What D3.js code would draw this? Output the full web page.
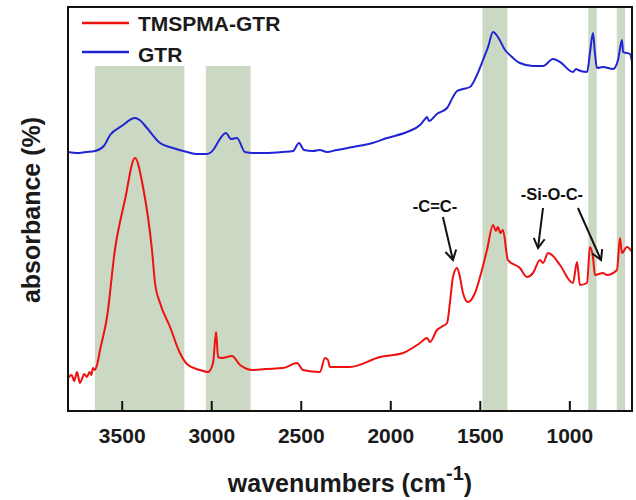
<!DOCTYPE html>
<html>
<head>
<meta charset="utf-8">
<script src="https://cdn.jsdelivr.net/npm/d3@7/dist/d3.min.js"></script>
<style>
  html, body { margin: 0; padding: 0; background: #fff; }
  svg { display: block; }
</style>
</head>
<body>
<svg id="chart" width="636" height="500"></svg>
<script>
// ---- data ----
const gtrWave = [3800,3750,3700,3649,3600,3565,3500,3426,3400,3359,3286,3214,3135,3080,3024,2985,2962,2918,2890,2856,2812,2767,2700,2600,2543,2510,2482,2432,2393,2354,2300,2208,2100,2018,1907,1834,1801,1795,1784,1740,1683,1650,1627,1594,1555,1516,1482,1454,1426,1399,1359,1320,1276,1203,1147,1091,1052,980,962,952,901,885,868,857,846,812,756,728,706,700,661,650];
const gtrAbs  = [259,258,259,260,265,276,285,293,291,283,268,263,259,257,257,262,269,278,272,273,259,258,258,259,260,268,261,260,261,259,261,264,268,273,279,286,293,294,290,297,303,314,320,322,324,336,351,364,379,374,361,354,348,345,345,352,349,339,342,341,339,358,378,358,343,344,342,351,371,359,357,349];

const tmWave = [3800,3780,3765,3750,3733,3720,3710,3694,3680,3670,3660,3650,3638,3621,3582,3538,3482,3426,3381,3331,3314,3286,3230,3175,3130,3063,3018,2990,2973,2962,2940,2884,2839,2767,2700,2599,2521,2488,2393,2365,2348,2337,2225,2058,1929,1834,1795,1778,1739,1715,1683,1667,1650,1627,1611,1594,1566,1527,1488,1460,1426,1410,1399,1385,1371,1343,1276,1237,1203,1164,1147,1119,1097,1052,980,957,941,901,885,868,857,812,790,734,717,706,678,650];
const tmAbs  = [33,36,30,39,28,33,37,34,39,36,43,41,46,61,94,161,211,253,224,161,128,108,84,58,46,41,39,48,79,54,53,55,46,41,42,43,48,41,39,53,51,44,44,54,58,68,73,69,81,84,88,108,134,143,134,118,109,118,141,161,186,180,184,178,181,151,143,134,138,151,148,158,156,146,128,149,126,128,164,154,136,138,136,141,173,158,164,159];

const bandFrom = [3650, 3030, 1485, 894, 735];
const bandTo   = [3150, 2780, 1346, 847, 688];
const bandTop  = [345, 345, 404, 404, 404];

const xTicks = [3500, 3000, 2500, 2000, 1500, 1000];

const seriesNames  = ["TMSPMA-GTR", "GTR"];
const seriesColors = ["#f01010", "#1f25d2"];

const annLabels = ["-C=C-", "-Si-O-C-"];
const annTextWave = [1750, 1097];
const annTextAbs  = [199, 211];
// arrows: [fromWave, fromAbs, toWave, toAbs]
const arrowFromWave = [1706, 1147, 952];
const arrowFromAbs  = [194, 203, 203];
const arrowToWave   = [1650, 1175, 823];
const arrowToAbs    = [151, 163, 151];

// ---- layout ----
const L = 68, R = 632, T = 7, B = 411;
const svg = d3.select("#chart");
const x = d3.scaleLinear().domain([3800, 650]).range([L, R]);
const y = d3.scaleLinear().domain([0, 404]).range([B, T]);
const fontFam = "'Liberation Sans', Arial, sans-serif";

// bands
svg.append("g").selectAll("rect").data(bandFrom).join("rect")
  .attr("x", (d,i) => x(bandFrom[i]))
  .attr("width", (d,i) => x(bandTo[i]) - x(bandFrom[i]))
  .attr("y", (d,i) => y(bandTop[i]))
  .attr("height", (d,i) => B - y(bandTop[i]))
  .attr("fill", "#cbd8c3");

// curves
const line = d3.line().x(d => x(d[0])).y(d => y(d[1])).curve(d3.curveMonotoneX);
const tmData = tmWave.map((w,i) => [w, tmAbs[i]]);
const gtrData = gtrWave.map((w,i) => [w, gtrAbs[i]]);
svg.append("path").attr("d", line(tmData)).attr("fill","none")
  .attr("stroke", seriesColors[0]).attr("stroke-width", 2).attr("stroke-linejoin","round");
svg.append("path").attr("d", line(gtrData)).attr("fill","none")
  .attr("stroke", seriesColors[1]).attr("stroke-width", 2).attr("stroke-linejoin","round");

// axis
const ax = svg.append("g").attr("transform", `translate(0,${B})`)
  .call(d3.axisBottom(x).tickValues(xTicks).tickSizeInner(-10).tickSizeOuter(0).tickPadding(17).tickFormat(d3.format("d")));
ax.select(".domain").remove();
ax.selectAll(".tick line").attr("stroke", "#111").attr("stroke-width", 2);
ax.selectAll(".tick text").attr("font-family", fontFam).attr("font-size", 21)
  .attr("font-weight", "bold").attr("fill", "#1a1a1a");

// frame
svg.append("rect").attr("x", L).attr("y", T).attr("width", R-L).attr("height", B-T)
  .attr("fill","none").attr("stroke","#111").attr("stroke-width", 2);

// legend
const lg = svg.append("g");
[0,1].forEach(i => {
  const yy = i === 0 ? 23 : 52;
  lg.append("line").attr("x1", 82).attr("x2", 129).attr("y1", yy).attr("y2", yy)
    .attr("stroke", seriesColors[i]).attr("stroke-width", 2.5);
  lg.append("text").attr("x", 138).attr("y", yy + (i === 0 ? 8 : 10))
    .attr("font-family", fontFam).attr("font-size", 21).attr("font-weight","bold")
    .attr("fill","#1a1a1a").text(seriesNames[i]);
});

// annotations
annLabels.forEach((t,i) => {
  svg.append("text").attr("x", x(annTextWave[i])).attr("y", y(annTextAbs[i]))
    .attr("text-anchor","middle").attr("font-family", fontFam).attr("font-size", 16.5)
    .attr("font-weight","bold").attr("fill","#111").text(t);
});
arrowFromWave.forEach((w,i) => {
  const x1 = x(w), y1 = y(arrowFromAbs[i]), x2 = x(arrowToWave[i]), y2 = y(arrowToAbs[i]);
  const ang = Math.atan2(y2-y1, x2-x1);
  const hl = 11, ha = Math.PI/6;
  const g = svg.append("g").attr("stroke","#111").attr("stroke-width",2).attr("fill","none");
  g.append("line").attr("x1",x1).attr("y1",y1).attr("x2",x2).attr("y2",y2);
  g.append("path").attr("d",
    `M${x2 - hl*Math.cos(ang-ha)},${y2 - hl*Math.sin(ang-ha)} L${x2},${y2} L${x2 - hl*Math.cos(ang+ha)},${y2 - hl*Math.sin(ang+ha)}`);
});

// axis titles
const xt = svg.append("text").attr("x", 350).attr("y", 492).attr("text-anchor","middle")
  .attr("font-family", fontFam).attr("font-size", 25).attr("font-weight","bold").attr("fill","#1a1a1a");
xt.append("tspan").text("wavenumbers (cm");
xt.append("tspan").attr("dy", -12).attr("font-size", 20).text("-1");
xt.append("tspan").attr("dy", 12).text(")");

svg.append("text").attr("transform", "translate(40,210) rotate(-90)").attr("text-anchor","middle")
  .attr("font-family", fontFam).attr("font-size", 25).attr("font-weight","bold").attr("fill","#1a1a1a")
  .text("absorbance (%)");
</script>
</body>
</html>
